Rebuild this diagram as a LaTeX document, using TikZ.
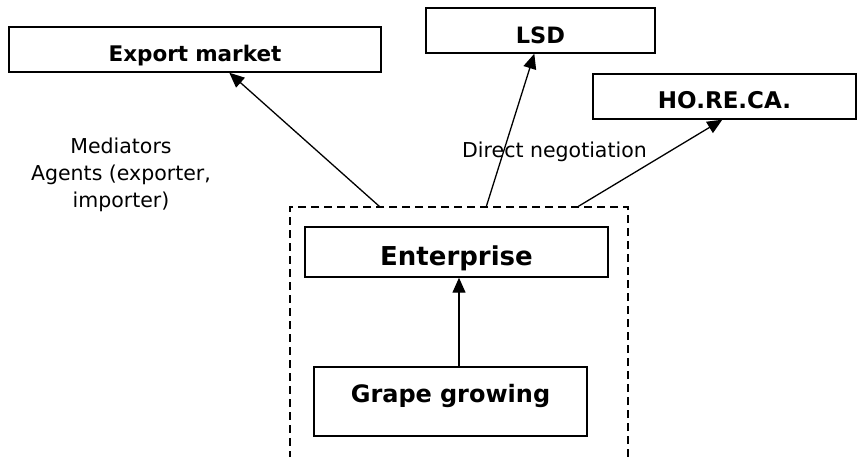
\documentclass[tikz,border=0pt]{standalone}
\usepackage{fontspec}
\setmainfont{DejaVu Sans}
\usetikzlibrary{arrows.meta,calc}

\tikzset{
  box/.style={draw=black, line width=1.4pt, inner sep=0pt, anchor=base, align=center, font=\bfseries\fontsize{21.5}{26}\selectfont},
  frame/.style={draw=black, line width=1.3pt, dash pattern=on 8pt off 5pt, inner sep=0pt, minimum width=338pt, minimum height=263pt},
  arr/.style={line width=1.3pt, -{Triangle[length=15pt,width=13pt]}},
  note/.style={inner sep=0pt, anchor=base, align=center, font=\fontsize{20.5}{27}\selectfont},
}

\begin{document}
\begin{tikzpicture}[x=1pt,y=-1pt]
\useasboundingbox (0,0) rectangle (858,456);

% outer dashed frame around the enterprise, open below the page edge
\node[frame] (frame) at (459,338.5) {};

% sales channels
\node[box, text width=372pt, text height=34pt, text depth=11pt] (exp) at (195,61) {Export market};
\node[box, text width=229pt, text height=35pt, text depth=10pt, font=\bfseries\fontsize{22.5}{27}\selectfont] (lsd) at (540.5,43) {LSD};
\node[box, text width=263pt, text height=34pt, text depth=11pt, font=\bfseries\fontsize{23}{28}\selectfont] (horeca) at (724.5,108) {HO.RE.CA.};

% enterprise and grape growing
\node[box, text width=303pt, text height=38pt, text depth=12pt, font=\bfseries\fontsize{26}{31}\selectfont] (ent) at (456.5,265) {Enterprise};
\node[box, text width=273pt, text height=35pt, text depth=34pt, font=\bfseries\fontsize{24}{29}\selectfont] (grape) at (450.5,402) {Grape growing};

% arrow start points on the frame's top edge
\coordinate (s1) at ($(frame.north west)+(90,0)$);
\coordinate (s2) at ($(frame.north west)+(197,0)$);
\coordinate (s3) at ($(frame.north west)+(289,0)$);

\draw[arr] (s1) -- ($(exp.south west)+(221,0)$);
\draw[arr] (s2) -- ($(lsd.south west)+(109,0)$);
\draw[arr] (s3) -- ($(horeca.south west)+(130,0)$);
\draw[arr] ($(grape.north)+(8.5,0)$) -- ($(ent.south)+(2.5,0)$);

% labels
\node[note] (med) at (121,207) {Mediators\\Agents (exporter,\\importer)};
\node[note, anchor=base west] (dir) at (462,157) {Direct negotiation};
\end{tikzpicture}
\end{document}
